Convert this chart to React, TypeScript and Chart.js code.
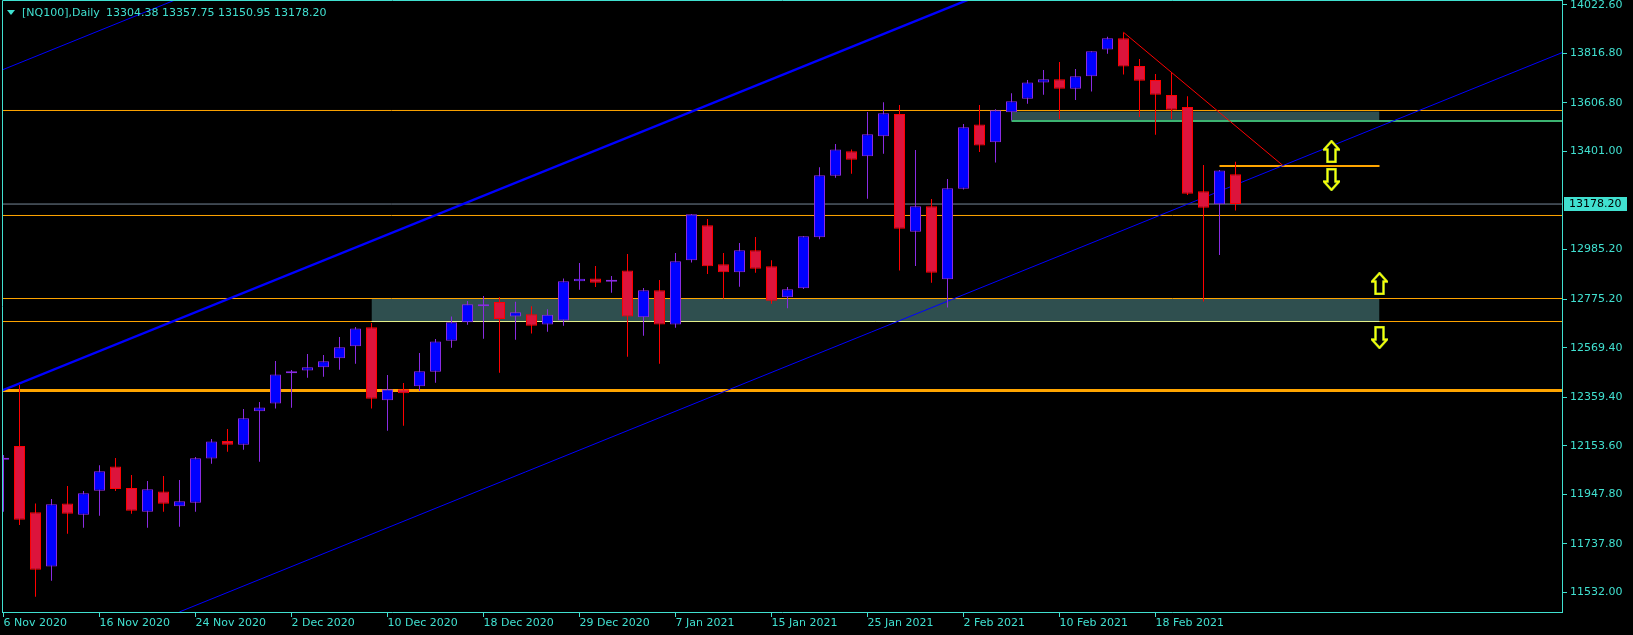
import React, { useEffect, useRef } from "react";
import { Chart, registerables } from "chart.js";

Chart.register(...registerables);

// ---------- data ----------
const headerSymbol = "[NQ100],Daily";

const candleOpen = [
  12094, 12152, 11871, 11641, 11909, 11861, 11963, 12066, 11974, 11874,
  11960, 11897, 11912, 12099, 12174, 12158, 12300, 12333, 12461, 12473,
  12486, 12524, 12575, 12656, 12346, 12393, 12406, 12467, 12599, 12677,
  12745, 12763, 12701, 12711, 12668, 12685, 12851, 12863, 12849, 12897,
  12698, 12813, 12668, 12940, 13088, 12923, 12889, 12982, 12914, 12783,
  12821, 13037, 13298, 13402, 13381, 13466, 13560, 13061, 13169, 12859,
  13243, 13516, 13440, 13567, 13625, 13694, 13707, 13667, 13720, 13834,
  13881, 13764, 13704, 13641, 13590, 13232, 13177, 13304.38,
];
const candleHigh = [
  12114, 12411, 11909, 11928, 11983, 11962, 12071, 12102, 12029, 12004,
  12025, 12008, 12106, 12182, 12224, 12309, 12339, 12513, 12475, 12542,
  12538, 12615, 12657, 12674, 12453, 12420, 12547, 12606, 12701, 12767,
  12788, 12783, 12764, 12745, 12732, 12863, 12928, 12916, 12873, 12966,
  12822, 12856, 12971, 13136, 13115, 12971, 13013, 13039, 12940, 12827,
  13043, 13334, 13433, 13410, 13569, 13610, 13598, 13407, 13200, 13284,
  13518, 13598, 13580, 13648, 13704, 13747, 13781, 13751, 13826, 13888,
  13906, 13793, 13730, 13737, 13635, 13344, 13323, 13357.75,
];
const candleLow = [
  11874, 11817, 11513, 11581, 11780, 11806, 11857, 11962, 11865, 11806,
  11874, 11810, 11874, 12077, 12128, 12137, 12086, 12311, 12315, 12442,
  12446, 12476, 12501, 12311, 12217, 12238, 12386, 12421, 12569, 12667,
  12607, 12463, 12603, 12629, 12637, 12662, 12815, 12827, 12802, 12531,
  12620, 12501, 12654, 12930, 12882, 12777, 12828, 12887, 12756, 12736,
  12818, 13029, 13290, 13307, 13201, 13392, 12896, 12916, 12845, 12740,
  13240, 13399, 13354, 13532, 13604, 13642, 13538, 13619, 13655, 13816,
  13727, 13547, 13472, 13539, 13217, 12765, 12962, 13150.95,
];
const candleClose = [
  12098, 11840, 11628, 11905, 11865, 11952, 12045, 11970, 11878, 11969,
  11908, 11918, 12100, 12172, 12158, 12270, 12316, 12456, 12465, 12486,
  12512, 12571, 12651, 12353, 12393, 12376, 12469, 12596, 12677, 12753,
  12753, 12691, 12719, 12662, 12709, 12851, 12862, 12845, 12853, 12701,
  12813, 12668, 12936, 13135, 12914, 12889, 12982, 12904, 12768, 12817,
  13042, 13300, 13410, 13366, 13474, 13563, 13074, 13169, 12887, 13245,
  13504, 13427, 13576, 13614, 13694, 13707, 13667, 13720, 13826, 13881,
  13761, 13701, 13642, 13578, 13222, 13163, 13321, 13178.2,
];

const xTickIndex = [0, 6, 12, 18, 24, 30, 36, 42, 48, 54, 60, 66, 72];
const xTickLabels = [
  "6 Nov 2020", "16 Nov 2020", "24 Nov 2020", "2 Dec 2020", "10 Dec 2020",
  "18 Dec 2020", "29 Dec 2020", "7 Jan 2021", "15 Jan 2021", "25 Jan 2021",
  "2 Feb 2021", "10 Feb 2021", "18 Feb 2021",
];
const yTickValues = [
  14022.6, 13816.8, 13606.8, 13401.0, 12985.2, 12775.2, 12569.4, 12359.4,
  12153.6, 11947.8, 11737.8, 11532.0,
];

const bidPrice = 13178.2;
const thinLevels = [13574.9, 13129.7, 12777.7, 12680.2];
const strongLevel = 12387.7;
const breakLevel = 13339.5;
const breakLevelSpan = [76, 86];
const greenLevel = 13530.3;
const greenLevelSpan = [63, 98];
const supplyZone = [13570.6, 13530.3];
const supplyZoneSpan = [63, 86];
const demandZone = [12777.7, 12680.2];
const demandZoneSpan = [23, 86];

const channelMain = [[-0.3, 12381.8], [62, 14091.3]];
const channelLower = [[11, 11449.0], [98, 13836.3]];
const channelUpper = [[-0.3, 13740.9], [11, 14051.0]];
const fallLine = [[70, 13906.4], [80, 13339.5]];

const upArrows = [[83, 13401.0], [86, 12841.3]];
const downArrows = [[83, 13282.3], [86, 12612.4]];

// ---------- style ----------
const TURQ = "#40E0D0";
const FONT = "'DejaVu Sans', Verdana, sans-serif";
const BULL_BODY = "#0000FF";
const BULL_EDGE = "#8A2BE2";
const BEAR_BODY = "#DC143C";
const BEAR_EDGE = "#FF0000";
const ORANGE = "#FFA500";
const X_MIN = -0.09375;
const X_MAX = 97.40625;
const Y_MIN = 11448.6;
const Y_MAX = 14039.14;

function makeArrow(up: boolean) {
  const c = document.createElement("canvas");
  c.width = 17;
  c.height = 23;
  const g = c.getContext("2d")!;
  const pts = [
    [8.5, 1.2], [16, 9.5], [12.5, 9.5], [12.5, 21.8], [4.5, 21.8], [4.5, 9.5], [1, 9.5],
  ];
  g.beginPath();
  pts.forEach(([x, y], k) => {
    const yy = up ? y : 23 - y;
    if (k === 0) g.moveTo(x, yy);
    else g.lineTo(x, yy);
  });
  g.closePath();
  g.fillStyle = "#000";
  g.fill();
  g.strokeStyle = "#9ACD32";
  g.lineWidth = 2.6;
  g.stroke();
  g.strokeStyle = "#FFFF00";
  g.lineWidth = 1.4;
  g.stroke();
  return c;
}

function segment(points: number[][], color: string, width: number, order: number) {
  return {
    type: "line" as const,
    data: points.map(([x, y]) => ({ x, y })),
    borderColor: color,
    borderWidth: width,
    pointRadius: 0,
    pointHoverRadius: 0,
    tension: 0,
    fill: false,
    order,
    clip: 0,
  };
}

function zone(span: number[], prices: number[], color: string, order: number) {
  return {
    type: "line" as const,
    data: [
      { x: span[0], y: prices[0] },
      { x: span[1], y: prices[0] },
    ],
    borderWidth: 0,
    borderColor: "rgba(0,0,0,0)",
    backgroundColor: color,
    pointRadius: 0,
    fill: { value: prices[1] },
    tension: 0,
    order,
    clip: 0,
  };
}

function noPadding(s: any) {
  s.paddingLeft = 0;
  s.paddingRight = 0;
  s.paddingTop = 0;
  s.paddingBottom = 0;
}

const chromePlugin = {
  id: "mt4Chrome",
  beforeDraw(chart: any) {
    const { ctx, width, height } = chart;
    ctx.save();
    ctx.fillStyle = "#000";
    ctx.fillRect(0, 0, width, height);
    ctx.restore();
  },
  afterDraw(chart: any) {
    const { ctx, chartArea: a } = chart;
    ctx.save();
    ctx.strokeStyle = TURQ;
    ctx.lineWidth = 1;
    ctx.beginPath();
    ctx.moveTo(a.left + 0.5, a.bottom);
    ctx.lineTo(a.left + 0.5, 0.5);
    ctx.lineTo(a.right + 1, 0.5);
    ctx.stroke();

    // header
    ctx.fillStyle = TURQ;
    ctx.beginPath();
    ctx.moveTo(7, 10);
    ctx.lineTo(15, 10);
    ctx.lineTo(11, 15);
    ctx.closePath();
    ctx.fill();
    ctx.font = `11px ${FONT}`;
    ctx.textAlign = "left";
    ctx.textBaseline = "alphabetic";
    const n = candleClose.length - 1;
    const ohlc = [candleOpen[n], candleHigh[n], candleLow[n], candleClose[n]]
      .map((v) => v.toFixed(2))
      .join(" ");
    ctx.fillText(headerSymbol, 22, 16);
    ctx.fillText(ohlc, 106, 16);

    // current price label
    const y = Math.round(chart.scales.y.getPixelForValue(bidPrice));
    ctx.fillStyle = TURQ;
    ctx.fillRect(a.right + 2, y - 7, 63, 14);
    ctx.fillStyle = "#000";
    ctx.textBaseline = "middle";
    ctx.fillText(bidPrice.toFixed(2), a.right + 7, y);
    ctx.restore();
  },
};

export default function App() {
  const ref = useRef<HTMLCanvasElement>(null);

  useEffect(() => {
    if (!ref.current) return;
    const bull = candleOpen.map((o, i) => candleClose[i] >= o);
    const upImg = makeArrow(true);
    const downImg = makeArrow(false);
    const full = [X_MIN - 1, X_MAX + 1];

    const datasets: any[] = [
      zone(supplyZoneSpan, supplyZone, "#2F4F4F", 30),
      zone(demandZoneSpan, demandZone, "#2F4F4F", 30),
      ...thinLevels.map((p) => segment([[full[0], p], [full[1], p]], ORANGE, 1, 25)),
      segment([[demandZoneSpan[0], demandZone[1]], [demandZoneSpan[1], demandZone[1]]], "#E4F08A", 1, 24),
      segment([[full[0], strongLevel], [full[1], strongLevel]], ORANGE, 3, 25),
      segment([[full[0], bidPrice], [full[1], bidPrice]], "#778899", 1, 25),
      segment([[greenLevelSpan[0], greenLevel], [greenLevelSpan[1], greenLevel]], "#3CB371", 2, 25),
      segment([[breakLevelSpan[0], breakLevel], [breakLevelSpan[1], breakLevel]], ORANGE, 2, 25),
      segment(channelMain, "#0000FF", 2.4, 22),
      segment(channelLower, "#0000FF", 1, 22),
      segment(channelUpper, "#0000FF", 1, 22),
      segment(fallLine, "#FF0000", 1, 22),
      {
        type: "bar",
        data: candleLow.map((l, i) => ({ x: i, y: [l, candleHigh[i]] })),
        backgroundColor: bull.map((b) => (b ? BULL_EDGE : BEAR_EDGE)),
        borderWidth: 0,
        barThickness: 1,
        grouped: false,
        inflateAmount: 0,
        order: 12,
        clip: 0,
      },
      {
        type: "bar",
        data: candleOpen.map((o, i) => ({ x: i, y: [o, candleClose[i]] })),
        backgroundColor: bull.map((b) => (b ? BULL_BODY : BEAR_BODY)),
        borderColor: bull.map((b) => (b ? BULL_EDGE : BEAR_EDGE)),
        borderWidth: 1,
        borderSkipped: false,
        barThickness: 11,
        minBarLength: 2,
        grouped: false,
        inflateAmount: 0,
        order: 11,
        clip: 0,
      },
      {
        type: "scatter",
        data: upArrows.map(([x, y]) => ({ x, y })),
        pointStyle: upImg,
        pointRadius: 6,
        order: 1,
        clip: false,
      },
      {
        type: "scatter",
        data: downArrows.map(([x, y]) => ({ x, y })),
        pointStyle: downImg,
        pointRadius: 6,
        order: 1,
        clip: false,
      },
    ];

    const chart = new Chart(ref.current, {
      type: "bar",
      data: { datasets },
      options: {
        animation: false,
        responsive: false,
        devicePixelRatio: 1,
        events: [],
        layout: { autoPadding: false, padding: { left: 2, top: 1, right: 0, bottom: 0 } },
        plugins: {
          legend: { display: false },
          tooltip: { enabled: false },
          title: { display: false },
        },
        scales: {
          x: {
            type: "linear",
            min: X_MIN,
            max: X_MAX,
            offset: false,
            bounds: "data",
            grid: {
              drawOnChartArea: false,
              drawTicks: true,
              tickLength: 5,
              color: TURQ,
              tickColor: TURQ,
              offset: false,
            },
            border: { display: true, color: TURQ, width: 1 },
            ticks: {
              autoSkip: false,
              maxRotation: 0,
              minRotation: 0,
              align: "start",
              padding: 0,
              color: TURQ,
              font: { family: FONT, size: 11 },
              callback: (v: any) => {
                const k = xTickIndex.indexOf(Number(v));
                return k >= 0 ? xTickLabels[k] : "";
              },
            },
            afterBuildTicks: (s: any) => {
              s.ticks = xTickIndex.map((v) => ({ value: v }));
            },
            afterFit: (s: any) => {
              s.height = 23;
              noPadding(s);
            },
          },
          y: {
            type: "linear",
            position: "right",
            min: Y_MIN,
            max: Y_MAX,
            bounds: "data",
            beginAtZero: false,
            grid: {
              drawOnChartArea: false,
              drawTicks: true,
              tickLength: 5,
              color: TURQ,
              tickColor: TURQ,
            },
            border: { display: true, color: TURQ, width: 1 },
            ticks: {
              autoSkip: false,
              padding: 3,
              color: TURQ,
              font: { family: FONT, size: 11 },
              callback: (v: any) => Number(v).toFixed(2),
            },
            afterBuildTicks: (s: any) => {
              s.ticks = yTickValues.map((v) => ({ value: v }));
            },
            afterFit: (s: any) => {
              s.width = 71;
              noPadding(s);
            },
          },
        },
      } as any,
      plugins: [chromePlugin],
    });
    return () => chart.destroy();
  }, []);

  return (
    <canvas
      ref={ref}
      width={1633}
      height={635}
      style={{ position: "fixed", left: 0, top: 0, display: "block", width: 1633, height: 635 }}
    />
  );
}
